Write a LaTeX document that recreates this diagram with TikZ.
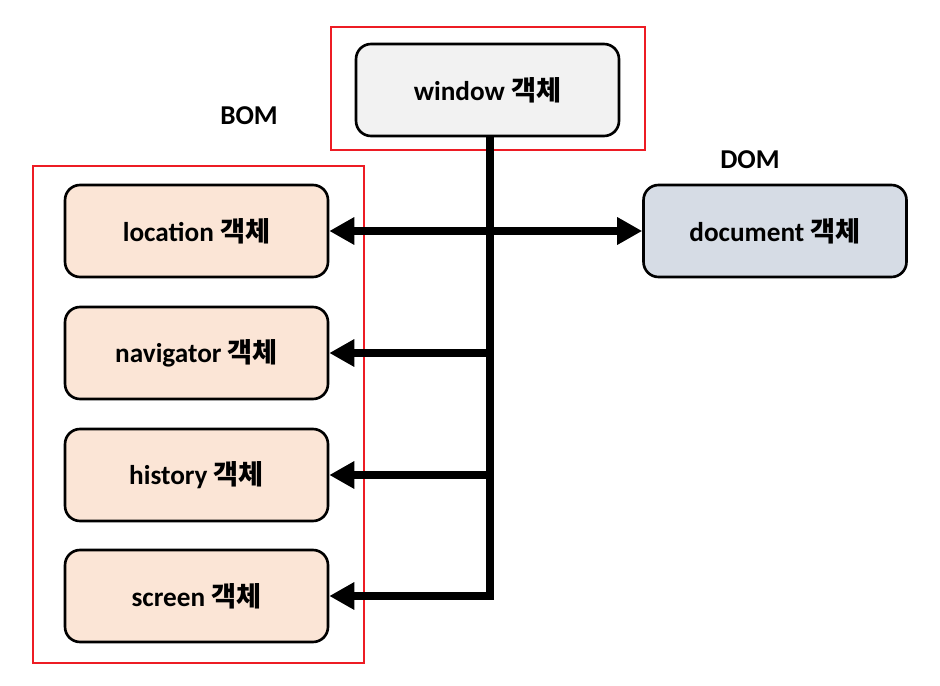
\documentclass[tikz,border=0pt]{standalone}
\usepackage{fontspec}
\setmainfont{Carlito}
\newfontfamily\kr{Noto Sans CJK KR}
\usepackage{xcolor}
\usetikzlibrary{arrows.meta}
\usetikzlibrary{positioning}

\definecolor{boxgray}{HTML}{F2F2F2}
\definecolor{boxpeach}{HTML}{FBE5D6}
\definecolor{boxblue}{HTML}{D6DCE5}
\definecolor{frame}{HTML}{ED1C24}

\tikzset{
    objbox/.style={draw=black, line width=1.5pt, rounded corners=0.3cm, minimum width=5.26cm, minimum height=1.84cm, font=\fontsize{15.5}{18}\selectfont\bfseries},
    link/.style={line width=4.5pt, -{Triangle[length=0.5cm,width=0.52cm]}},
    grouplabel/.style={font=\fontsize{15.5}{18}\selectfont\bfseries}
}

\begin{document}
\begin{tikzpicture}[x=0.02cm,y=-0.02cm]
\useasboundingbox (0,0) rectangle (940,686);

% frames
\draw[frame, line width=1.3pt] (331,27) rectangle (645,150);
\draw[frame, line width=1.3pt] (33,166) rectangle (364,663);
\node[grouplabel] (bom) at (249,116) {BOM};
\node[grouplabel] (dom) at (750,160) {DOM};

% objects
\node[objbox, fill=boxgray] (window) at (487.5,90) {window {\kr 객체}};
\node[objbox, fill=boxpeach] (location) at (196.5,231) {location {\kr 객체}};
\node[objbox, fill=boxpeach] (navigator) at (196.5,353) {navigator {\kr 객체}};
\node[objbox, fill=boxpeach] (history) at (196.5,475) {history {\kr 객체}};
\node[objbox, fill=boxpeach] (screen) at (196.5,596) {screen {\kr 객체}};
\node[objbox, fill=boxblue] (document) at (775,231) {document {\kr 객체}};

% trunk
\coordinate (top) at (490,136);
\coordinate (jnav) at (490,353);
\coordinate (jhis) at (490,475);
\draw[link, line join=miter] (top) |- (screen.east);
\draw[link] (jnav) -- (navigator.east);
\draw[link] (jhis) -- (history.east);
\draw[link, {Triangle[length=0.5cm,width=0.52cm]}-{Triangle[length=0.5cm,width=0.52cm]}] (location.east) -- (document.west);

\end{tikzpicture}
\end{document}
